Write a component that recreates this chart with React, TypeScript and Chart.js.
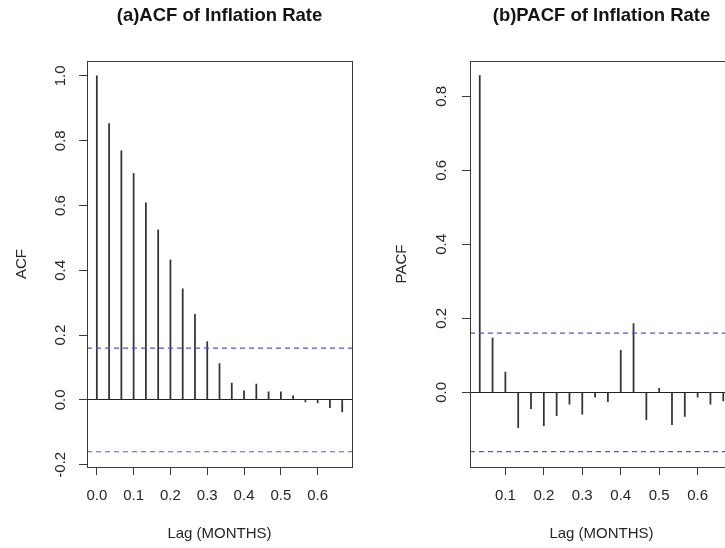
import React, { useEffect, useRef } from "react";
import { Chart, registerables } from "chart.js";

Chart.register(...registerables);

// ---- data ----
const FREQ = 30; // lag unit: lag index / 30 (in MONTHS)
const ACF_LAGS = [0, 1, 2, 3, 4, 5, 6, 7, 8, 9, 10, 11, 12, 13, 14, 15, 16, 17, 18, 19, 20];
const ACF_VALUES = [
  1.0, 0.853, 0.769, 0.699, 0.608, 0.525, 0.432, 0.343, 0.264, 0.18, 0.112,
  0.052, 0.028, 0.049, 0.025, 0.025, 0.013, -0.006, -0.009, -0.024, -0.037,
];
const PACF_LAGS = [1, 2, 3, 4, 5, 6, 7, 8, 9, 10, 11, 12, 13, 14, 15, 16, 17, 18, 19, 20];
const PACF_VALUES = [
  0.856, 0.147, 0.055, -0.095, -0.044, -0.09, -0.063, -0.032, -0.059, -0.013,
  -0.025, 0.114, 0.186, -0.074, 0.011, -0.087, -0.065, -0.013, -0.032, -0.023,
];
const CI = 0.16;

const ACF_X_TICKS = [0, 0.1, 0.2, 0.3, 0.4, 0.5, 0.6];
const ACF_Y_TICKS = [-0.2, 0, 0.2, 0.4, 0.6, 0.8, 1.0];
const PACF_X_TICKS = [0.1, 0.2, 0.3, 0.4, 0.5, 0.6];
const PACF_Y_TICKS = [0, 0.2, 0.4, 0.6, 0.8];

const ACF_TITLE = "(a)ACF of Inflation Rate";
const PACF_TITLE = "(b)PACF of Inflation Rate";
const X_TITLE = "Lag (MONTHS)";

// ---- styles ----
const FONT = "'Liberation Sans', Arial, sans-serif";
const TEXT_COLOR = "#262626";
const AXIS_COLOR = "#3a3a3a";
const BAR_COLOR = "#333333";
const CI_COLOR = "#5454d6";

const boxPlugin = {
  id: "rbox",
  afterDraw(chart: any) {
    const { left, top, right, bottom } = chart.chartArea;
    const c = chart.ctx;
    const a = (v: number) => Math.round(v - 0.5) + 0.5;
    c.save();
    c.strokeStyle = AXIS_COLOR;
    c.lineWidth = 1;
    c.strokeRect(a(left), a(top), a(right) - a(left), a(bottom) - a(top));
    c.restore();
  },
};

type PanelProps = {
  left: number;
  width: number;
  lags: number[];
  values: number[];
  title: string;
  yTitle: string;
  xMin: number;
  xMax: number;
  yMin: number;
  yMax: number;
  xTicks: number[];
  yTicks: number[];
  yAxisWidth: number;
  yTickPad: number;
  yTitlePad: number;
  padRight: number;
};

function Panel(p: PanelProps) {
  const ref = useRef<HTMLCanvasElement>(null);
  useEffect(() => {
    const pts = p.lags.map((k, i) => ({ x: k / FREQ, y: p.values[i] }));
    const tickFont = { family: FONT, size: 15 };
    const chart = new Chart(ref.current as HTMLCanvasElement, {
      type: "bar",
      data: {
        datasets: [
          {
            type: "bar",
            data: pts as any,
            backgroundColor: BAR_COLOR,
            barThickness: 1.1,
            grouped: false,
            order: 2,
          } as any,
          {
            type: "line",
            data: [
              { x: p.xMin, y: CI },
              { x: p.xMax, y: CI },
            ],
            borderColor: CI_COLOR,
            borderWidth: 1.2,
            borderDash: [5, 4],
            pointRadius: 0,
            order: 1,
          } as any,
          {
            type: "line",
            data: [
              { x: p.xMin, y: -CI },
              { x: p.xMax, y: -CI },
            ],
            borderColor: CI_COLOR,
            borderWidth: 1.2,
            borderDash: [5, 4],
            pointRadius: 0,
            order: 1,
          } as any,
        ],
      },
      options: {
        responsive: false,
        animation: false,
        devicePixelRatio: 1,
        layout: { padding: { left: 0, right: p.padRight, top: 0, bottom: 0 } },
        plugins: {
          legend: { display: false },
          tooltip: { enabled: false },
          title: {
            display: true,
            text: p.title,
            fullSize: false,
            color: "#141414",
            font: { family: FONT, size: 18.5, weight: "bold" },
            padding: { top: 5, bottom: 33.8 },
          },
        },
        scales: {
          x: {
            type: "linear",
            offset: false,
            min: p.xMin,
            max: p.xMax,
            afterBuildTicks: (s: any) => {
              s.ticks = p.xTicks.map((v) => ({ value: v }));
            },
            afterFit: (s: any) => {
              s.height = 81;
            },
            ticks: {
              callback: (v: any) => Number(v).toFixed(1),
              font: tickFont,
              color: TEXT_COLOR,
              padding: 12,
              maxRotation: 0,
              autoSkip: false,
            },
            grid: {
              offset: false,
              drawOnChartArea: false,
              drawTicks: true,
              tickLength: 8,
              tickColor: AXIS_COLOR,
            },
            border: { display: true, color: AXIS_COLOR },
            title: {
              display: true,
              text: X_TITLE,
              color: TEXT_COLOR,
              font: tickFont,
              padding: { top: 0, bottom: 5.5 },
            },
          },
          y: {
            type: "linear",
            min: p.yMin,
            max: p.yMax,
            afterBuildTicks: (s: any) => {
              s.ticks = p.yTicks.map((v) => ({ value: v }));
            },
            afterFit: (s: any) => {
              s.width = p.yAxisWidth;
            },
            ticks: {
              callback: (v: any) => Number(v).toFixed(1),
              font: tickFont,
              color: TEXT_COLOR,
              padding: p.yTickPad,
              minRotation: 90,
              maxRotation: 90,
              crossAlign: "center",
              autoSkip: false,
            },
            grid: {
              drawOnChartArea: true,
              drawTicks: true,
              tickLength: 8,
              tickColor: AXIS_COLOR,
              color: (c: any) =>
                c.tick && Math.abs(c.tick.value) < 1e-9 ? "#222222" : "rgba(0,0,0,0)",
            },
            border: { display: true, color: AXIS_COLOR },
            title: {
              display: true,
              text: p.yTitle,
              color: TEXT_COLOR,
              font: tickFont,
              padding: { top: p.yTitlePad, bottom: 0 },
            },
          },
        },
      } as any,
      plugins: [boxPlugin],
    });
    return () => chart.destroy();
  }, []);
  return (
    <canvas
      ref={ref}
      width={p.width}
      height={548}
      style={{ position: "absolute", left: p.left, top: 0, width: p.width, height: 548 }}
    />
  );
}

export default function App() {
  return (
    <div
      style={{
        position: "fixed",
        left: 0,
        top: 0,
        width: 725,
        height: 548,
        overflow: "hidden",
        background: "#ffffff",
      }}
    >
      <Panel
        left={0}
        width={362}
        lags={ACF_LAGS}
        values={ACF_VALUES}
        title={ACF_TITLE}
        yTitle="ACF"
        xMin={-0.0267}
        xMax={0.6933}
        yMin={-0.207}
        yMax={1.046}
        xTicks={ACF_X_TICKS}
        yTicks={ACF_Y_TICKS}
        yAxisWidth={87}
        yTickPad={5}
        yTitlePad={13}
        padRight={10}
      />
      <Panel
        left={362}
        width={381}
        lags={PACF_LAGS}
        values={PACF_VALUES}
        title={PACF_TITLE}
        yTitle="PACF"
        xMin={0.008}
        xMax={0.692}
        yMin={-0.2016}
        yMax={0.8956}
        xTicks={PACF_X_TICKS}
        yTicks={PACF_Y_TICKS}
        yAxisWidth={108}
        yTickPad={10}
        yTitlePad={31}
        padRight={10}
      />
    </div>
  );
}
